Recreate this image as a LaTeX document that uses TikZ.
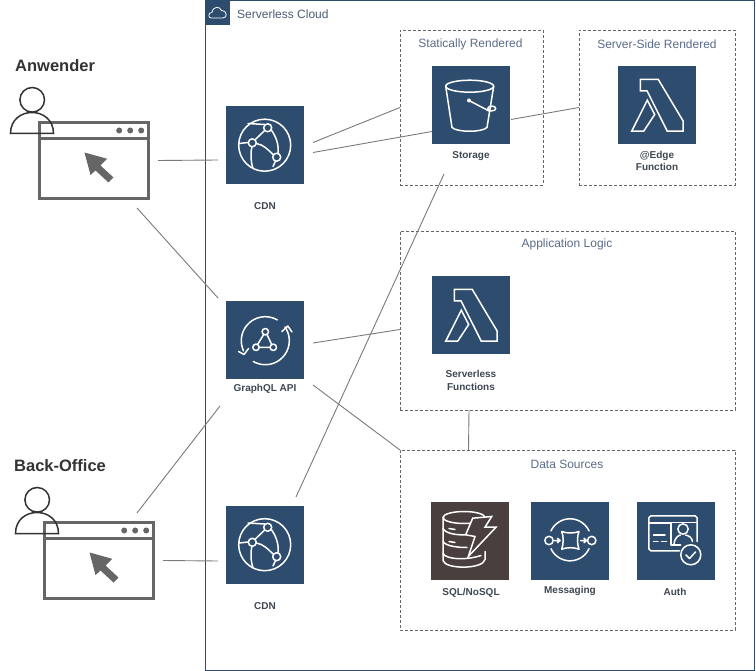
\documentclass[tikz,border=0pt]{standalone}
\usepackage{fontspec}
\setmainfont{Liberation Sans}
\usetikzlibrary{calc}
\definecolor{navy}{HTML}{2E4C6D}
\definecolor{brownbox}{HTML}{4A3F3F}
\definecolor{titlecol}{HTML}{5B6C88}
\definecolor{wingray}{HTML}{666666}
\definecolor{linkgray}{HTML}{7A7A7A}
\definecolor{labelcol}{HTML}{3F4752}
\tikzset{
  x=1pt,y=-1pt,
  iconbox/.style={rectangle,fill=navy,draw=none,minimum size=78pt,inner sep=0pt,outer sep=0pt,anchor=north west},
  dbbox/.style={iconbox,fill=brownbox},
  winbox/.style={rectangle,draw=wingray,line width=3pt,minimum width=109pt,minimum height=76pt,inner sep=0pt,outer sep=0pt,anchor=north west},
  group/.style={rectangle,draw=black!60,dashed,dash pattern=on 3pt off 2pt,line width=.6pt,inner sep=0pt,outer sep=0pt,anchor=north west},
  grouptitle/.style={font=\fontsize{12}{14}\selectfont,text=titlecol,inner sep=0pt},
  lab/.style={font=\bfseries\fontsize{10}{12.2}\selectfont,text=labelcol,inner sep=0pt,align=center},
  actor/.style={font=\bfseries\fontsize{16.5}{18}\selectfont,text=black!80,inner sep=0pt,anchor=west},
  link/.style={draw=linkgray,line width=.9pt},
  glyph/.style={draw=white,line width=1.5pt,line join=round,line cap=round},
  pics/cdnglyph/.style={code={
    \draw[glyph] (38.7,38.7) circle (26);
    \draw[glyph] (41.7,21.3) circle (4) (26.3,36.3) circle (4) (50.7,50.7) circle (4);
    \draw[glyph] (13,37) -- (22.3,36);
    \draw[glyph] (29,33.3) -- (38.7,24);
    \draw[glyph] (30.3,37) .. controls (37,38) and (42,43) .. (47,48);
    \draw[glyph] (45,23) .. controls (50,30) and (53,38) .. (52,46.7);
    \draw[glyph] (26,40.3) .. controls (24,48) and (25,56) .. (27,62);
    \draw[glyph] (49.5,54.7) -- (47,60);
    \draw[glyph] (38.5,18) -- (22,17);
  }},
  pics/bucketglyph/.style={code={
    \draw[glyph] (37.7,19.7) ellipse [x radius=24,y radius=6];
    \draw[glyph] (13.7,19.7) -- (20,61) .. controls (25,66) and (50,66) .. (55,61) -- (61.7,19.7);
    \fill[white] (37,34) circle (2);
    \draw[glyph] (37,34) -- (58,45);
    \draw[glyph] (59.8,42) ellipse [x radius=4,y radius=2.4];
  }},
  pics/lambdaglyph/.style={code={
    \draw[glyph,line cap=butt,miter limit=4,line join=miter] (22.3,13) -- (40.3,13) -- (65,54.3) -- (65,64.7) -- (49.3,64.7) -- (29,24.3) -- (22.3,24.3) -- cycle;
    \draw[glyph,line join=miter] (29.3,33.7) -- (36.7,48) -- (25.7,64.7) -- (13.7,64.7) -- cycle;
  }},
  pics/graphglyph/.style={code={
    \draw[glyph] plot[smooth,domain=60:205,samples=24] ({39.3+24*cos(\x)},{39.7-24*sin(\x)});
    \draw[glyph] (12.5,50.5) -- (18,53.5) -- (22.5,47.5);
    \draw[glyph] plot[smooth,domain=240:395,samples=24] ({39.3+24*cos(\x)},{39.7-24*sin(\x)});
    \draw[glyph] (56,30.5) -- (61.8,25) -- (66,31);
    \draw[glyph] (39.3,30.7) circle (3.2) (30,46.3) circle (3.2) (47.3,46.3) circle (3.2);
    \draw[glyph] (37.7,33.5) -- (31.6,43.5) (41,33.5) -- (45.7,43.5) (33.2,46.3) -- (44.1,46.3);
  }},
  pics/dbglyph/.style={code={
    \draw[glyph] (33,16) ellipse [x radius=21,y radius=6];
    \draw[glyph] (12,16) -- (12,59) .. controls (14,68) and (52,68) .. (54,58) -- (54,50);
    \draw[glyph] (12,27) .. controls (15,33) and (30,34) .. (36,33);
    \draw[glyph] (12,40) .. controls (15,45) and (28,46) .. (36,46);
    \draw[glyph] (12,52) .. controls (15,58) and (35,59) .. (50,54);
    \draw[glyph] (18,27) -- (24,28) (18,40) -- (24,41);
    \fill[brownbox] (41.7,16.7) -- (60.7,15) -- (54,25.7) -- (65,25.7) -- (37.3,55) -- (44,35) -- (34.7,33.3) -- cycle;
    \draw[glyph,line join=miter] (41.7,16.7) -- (60.7,15) -- (54,25.7) -- (65,25.7) -- (37.3,55) -- (44,35) -- (34.7,33.3) -- cycle;
  }},
  pics/queueglyph/.style={code={
    \draw[glyph] plot[smooth,domain=25:155,samples=20] ({39+21*cos(\x)},{38.3-21*sin(\x)});
    \draw[glyph] plot[smooth,domain=205:335,samples=20] ({39+21*cos(\x)},{38.3-21*sin(\x)});
    \draw[glyph] (18,39) circle (4.2) (60.7,39) circle (4.2);
    \draw[glyph] (30.7,30) .. controls (36,32) and (43,32) .. (48,30) .. controls (46,35) and (46,42) .. (48,47.7) .. controls (43,45.7) and (36,45.7) .. (30.7,47.7) .. controls (32.7,42) and (32.7,35) .. (30.7,30) -- cycle;
    \draw[glyph] (23,39) -- (28.5,39) (26.5,36.8) -- (29,39) -- (26.5,41.2);
    \draw[glyph] (49.5,39) -- (55,39) (53,36.8) -- (55.5,39) -- (53,41.2);
  }},
  pics/authglyph/.style={code={
    \draw[glyph] (43,49.3) -- (14.3,49.3) -- (12.3,47.3) -- (12.3,16.3) -- (14.3,14.3) -- (58.7,14.3) -- (60.7,16.3) -- (60.7,40);
    \draw[glyph] (12.3,21.7) -- (34.5,21.7);
    \draw[glyph] (34.5,43) -- (34.5,21) -- (60.7,21);
    \draw[glyph] (34.5,43.3) -- (44,43.3);
    \draw[glyph] (46.5,27.5) circle (5.2);
    \draw[glyph] (37.5,43) .. controls (38,36) and (42,34) .. (44,33.5) (49,33.5) .. controls (52,34) and (55.5,36) .. (56,40);
    \draw[glyph] (17,33.3) -- (28.5,33.3) (17,40) -- (21.5,40) (25,40) -- (30,40);
    \draw[glyph] (54.3,53.3) circle (10);
    \draw[glyph] (49.5,53.5) -- (53,57) -- (59,50.5);
  }},
  pics/usermark/.style={code={
    \draw[black!80,line width=1.5pt] (-7.3,-22.7) circle (12.3);
    \draw[black!80,line width=1.5pt] (-29,11) .. controls (-29,-17) and (14,-17) .. (14,11) -- cycle;
  }},
  pics/winmark/.style={code={
    \draw[wingray,line width=2.6pt] (0,16) -- (109,16);
    \fill[wingray] (79.7,8) circle (3) (90.7,8) circle (3) (101.7,8) circle (3);
    \fill[wingray] (45,30) -- (67.7,36.3) -- (61,43) -- (74,55) -- (69,60) -- (56,48) -- (51,52.5) -- cycle;
  }}
}
\begin{document}
\begin{tikzpicture}
\useasboundingbox (0,0) rectangle (756,671);
\fill[white] (0,0) rectangle (756,671);
% cloud frame
\node[rectangle,draw=navy,line width=1pt,minimum width=549pt,minimum height=670pt,inner sep=0pt,outer sep=0pt,anchor=north west] (cloud) at (205.5,.5) {};
\node[rectangle,fill=navy,minimum size=25pt,inner sep=0pt,outer sep=0pt,anchor=north west] (cloudtag) at (205,0) {};
\draw[white,line width=.8pt,line join=round] ($(cloudtag.north west)+(6,18)$) .. controls ($(cloudtag.north west)+(3,18)$) and ($(cloudtag.north west)+(3,12)$) .. ($(cloudtag.north west)+(7,12.5)$) .. controls ($(cloudtag.north west)+(8,6)$) and ($(cloudtag.north west)+(15,6)$) .. ($(cloudtag.north west)+(16.5,10.5)$) .. controls ($(cloudtag.north west)+(22,10)$) and ($(cloudtag.north west)+(23,18)$) .. ($(cloudtag.north west)+(18,18)$) -- cycle;
\node[font=\fontsize{12}{14}\selectfont,text=titlecol!85!black,inner sep=0pt,anchor=west] (cloudtitle) at (237,14) {Serverless Cloud};
% groups
\node[group,minimum width=143pt,minimum height=155pt] (static) at (400,30) {};
\node[group,minimum width=156pt,minimum height=155pt] (ssr) at (579,30) {};
\node[group,minimum width=335pt,minimum height=179pt] (logic) at (400,231) {};
\node[group,minimum width=335pt,minimum height=180pt] (data) at (400,450) {};
\node[grouptitle] (statict) at (470.5,44.5) {Statically Rendered};
\node[grouptitle] (ssrt) at (657,44.5) {Server-Side Rendered};
\node[grouptitle] (logict) at (567,244) {Application Logic};
\node[grouptitle] (datat) at (567,464.5) {Data Sources};
% icons
\node[iconbox] (cdna) at (226,106.5) {};
\node[iconbox] (storage) at (432,66.5) {};
\node[iconbox] (edge) at (618,66.5) {};
\node[iconbox] (graphql) at (226,301) {};
\node[iconbox] (funcs) at (432,276.5) {};
\node[dbbox] (sql) at (431,501.5) {};
\node[iconbox] (msg) at (531,501.5) {};
\node[iconbox] (auth) at (636.5,501.5) {};
\node[iconbox] (cdnb) at (226,506) {};
\pic at (cdna.north west) {cdnglyph};
\pic at (cdnb.north west) {cdnglyph};
\pic at (storage.north west) {bucketglyph};
\pic at (edge.north west) {lambdaglyph};
\pic at (funcs.north west) {lambdaglyph};
\pic at (graphql.north west) {graphglyph};
\pic at (sql.north west) {dbglyph};
\pic at (msg.north west) {queueglyph};
\pic at (auth.north west) {authglyph};
% labels
\node[lab] (l1) at (265,206.5) {CDN};
\node[lab] (l2) at (471,156.5) {Storage};
\node[lab] (l3) at (657,161) {@Edge\\Function};
\node[lab] (l4) at (265,389) {GraphQL API};
\node[lab] (l5) at (471,380.5) {Serverless\\Functions};
\node[lab] (l6) at (471,593) {SQL/NoSQL};
\node[lab] (l7) at (570,591) {Messaging};
\node[lab] (l8) at (675,591.5) {Auth};
\node[lab] (l9) at (265,606.5) {CDN};
% users
\node[actor] (anw) at (15,65.5) {Anwender};
\node[actor] (bo) at (14,466) {Back-Office};
\node[winbox] (wina) at (39.5,122.5) {};
\node[winbox] (winb) at (44.5,522.5) {};
\pic at (wina.north west) {usermark};
\pic at (winb.north west) {usermark};
\pic at (wina.north west) {winmark};
\pic at (winb.north west) {winmark};
% connectors
\draw[link] ($(wina.east)+(9.5,0)$) -- ($(cdna.west)+(-8,14.5)$);
\draw[link] ($(wina.south east)+(-11.5,9.5)$) -- ($(graphql.north west)+(-8,-3)$);
\draw[link] ($(cdna.east)+(9,-3)$) -- (static.west);
\draw[link] ($(cdna.east)+(9,7)$) -- ($(storage.west)+(0,26)$);
\draw[link] ($(storage.east)+(1,14)$) -- (ssr.west);
\draw[link] ($(graphql.east)+(9,3)$) -- ($(logic.west)+(0,9)$);
\draw[link] ($(graphql.south east)+(9,6)$) -- (data.north west);
\draw[link] (logic.south -| 469,0) -- (data.north -| 468.5,0);
\draw[link] ($(cdnb.north east)+(-8,-9)$) -- ($(storage.south)+(-27,29.5)$);
\draw[link] ($(winb.north east)+(-16.5,-9.5)$) -- ($(graphql.south west)+(-6,27)$);
\draw[link] ($(winb.east)+(9.5,0)$) -- ($(cdnb.west)+(-8,16)$);
\end{tikzpicture}
\end{document}
